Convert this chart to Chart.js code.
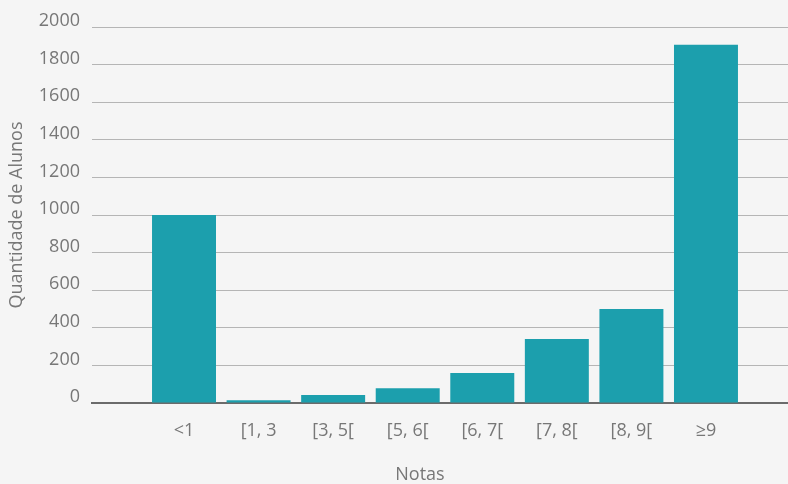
<!DOCTYPE html>
<html>
<head>
<meta charset="utf-8">
<script src="https://cdn.jsdelivr.net/npm/chart.js@4/dist/chart.umd.min.js"></script>
<style>
    html, body { margin: 0; padding: 0; background: #f5f5f5; }
    #wrap { width: 788px; height: 484px; }
</style>
</head>
<body>
<div id="wrap"><canvas id="chartNotas"></canvas></div>
<script>
const categorias = ['<1', '[1, 3', '[3, 5[', '[5, 6[', '[6, 7[', '[7, 8[', '[8, 9[', '≥9']
const alunos = [1000, 14, 43, 78, 160, 340, 500, 1905]
const ticksY = [0, 200, 400, 600, 800, 1000, 1200, 1400, 1600, 1800, 2000]
const tituloX = 'Notas'
const tituloY = 'Quantidade de Alunos'

const fonte = { family: "'Open Sans', sans-serif", size: 18 }
const cinza = '#777777'

// desenha o titulo do eixo x um pouco a esquerda do centro, como no original
const tituloEixoX = {
    id: 'tituloEixoX',
    afterDraw(chart) {
        const ctx = chart.ctx
        ctx.save()
        ctx.font = "18px 'Open Sans', sans-serif"
        ctx.fillStyle = cinza
        ctx.textAlign = 'center'
        ctx.textBaseline = 'middle'
        ctx.fillText(tituloX, 420, 475)
        ctx.restore()
    }
}

new Chart(document.getElementById('chartNotas'), {
    type: 'bar',
    data: {
        datasets: [{
            label: tituloY,
            data: categorias.map((c, i) => ({ x: i, y: alunos[i] })),
            backgroundColor: '#1c9fad',
            barPercentage: 0.858,
            categoryPercentage: 1
        }]
    },
    plugins: [tituloEixoX],
    options: {
        responsive: true,
        maintainAspectRatio: false,
        animation: false,
        layout: { padding: { top: 27, right: 0, bottom: 0, left: 0 } },
        plugins: {
            legend: { display: false },
            tooltip: { enabled: false }
        },
        scales: {
            x: {
                type: 'linear',
                offset: false,
                min: -1.234,
                max: 8.1,
                z: 1,
                afterBuildTicks: (scale) => {
                    scale.ticks = categorias.map((c, i) => ({ value: i }))
                },
                afterFit: (scale) => { scale.height = 81 },
                ticks: {
                    color: cinza,
                    font: fonte,
                    padding: 17,
                    maxRotation: 0,
                    autoSkip: false,
                    callback: (v) => categorias[v]
                },
                grid: { display: false, drawTicks: false, offset: false },
                border: { display: true, color: 'rgba(60, 60, 60, 0.75)', width: 2 }
            },
            y: {
                min: 0,
                max: 2000,
                afterBuildTicks: (scale) => {
                    scale.ticks = ticksY.map(v => ({ value: v }))
                },
                afterFit: (scale) => { scale.width = 92 },
                ticks: {
                    color: cinza,
                    font: fonte,
                    padding: 12,
                    labelOffset: -6,
                    callback: (v) => String(v)
                },
                grid: {
                    color: (c) => c.tick && c.tick.value === 0 ? 'rgba(0,0,0,0)' : '#b5b5b5',
                    lineWidth: 1,
                    drawTicks: false
                },
                border: { display: false },
                title: {
                    display: true,
                    text: tituloY,
                    color: cinza,
                    font: fonte,
                    padding: { top: 6, bottom: 10 }
                }
            }
        }
    }
})
</script>
</body>
</html>
